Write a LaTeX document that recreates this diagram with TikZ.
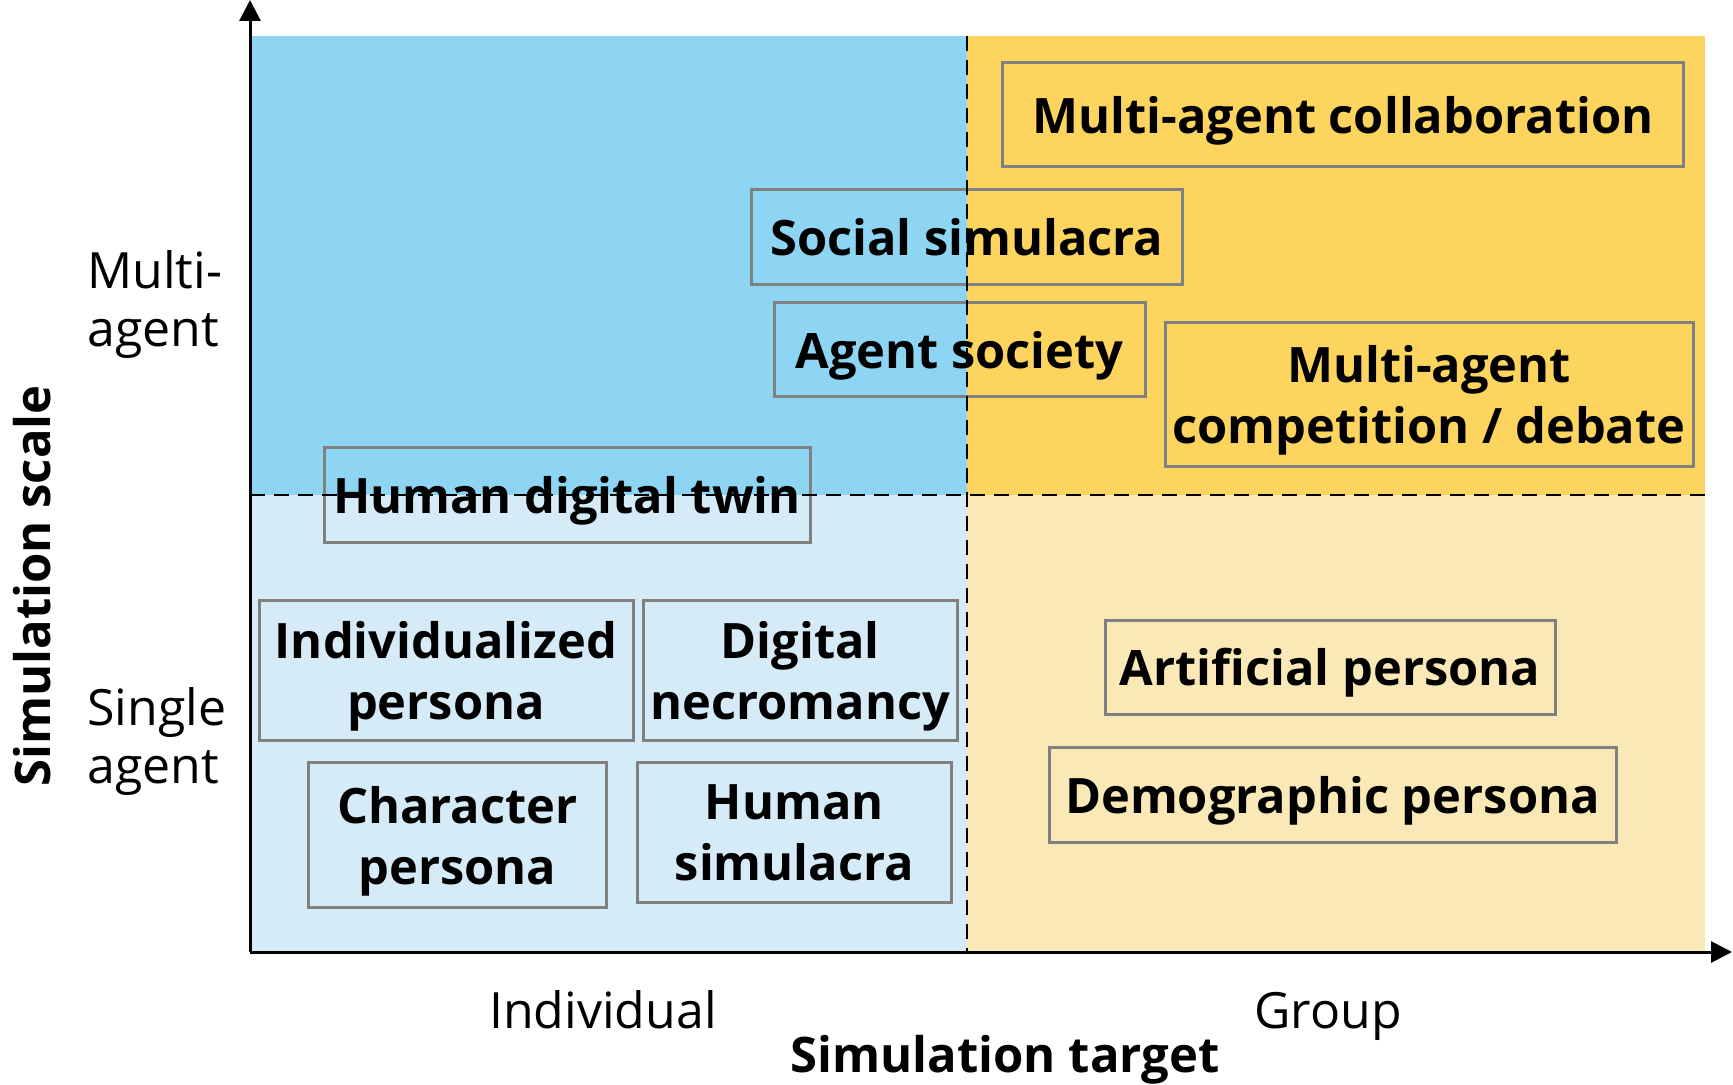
\documentclass[tikz,border=0pt]{standalone}
\usepackage{fontspec}
\setmainfont{Open Sans}
\usetikzlibrary{arrows.meta}
\definecolor{cTL}{HTML}{8DD5F2}
\definecolor{cBL}{HTML}{D5ECF8}
\definecolor{cTR}{HTML}{FDD55E}
\definecolor{cBR}{HTML}{FAE9B6}
\definecolor{boxgray}{HTML}{808080}
\begin{document}
\begin{tikzpicture}[x=0.5pt,y=-0.5pt,
  box/.style={draw=boxgray, line width=1.5pt, inner sep=0pt, align=center,
    text depth=0pt, font=\bfseries\fontsize{24.4}{30.5}\selectfont},
  lab/.style={inner sep=0pt, align=left, font=\fontsize{25}{29}\selectfont},
  axlab/.style={inner sep=0pt, font=\fontsize{25}{29}\selectfont},
  axtitle/.style={inner sep=0pt, font=\bfseries\fontsize{24.5}{26}\selectfont},
  divider/.style={line width=1.2pt, dash pattern=on 7.5pt off 4.5pt},
  axisline/.style={line width=1.5pt, -{Triangle[length=10.5pt,width=10.5pt]}}]
\useasboundingbox (0,0) rectangle (1733,1085);
% quadrants
\fill[cTL] (250,35.7) rectangle (967,495);
\fill[cBL] (250,495) rectangle (967,952);
\fill[cTR] (967,35.7) rectangle (1705,495);
\fill[cBR] (967,495) rectangle (1705,952);
% boxes
\node[box, minimum width=340.6pt, minimum height=52pt] (mac) at (1343,115) {Multi-agent collaboration};
\node[box, minimum width=215.3pt, minimum height=47.3pt] (ss) at (966.8,237.3) {Social simulacra};
\node[box, minimum width=185.5pt, minimum height=46.5pt] (as) at (959.5,349.5) {Agent society};
\node[box, minimum width=264pt, minimum height=71.5pt] (mcd) at (1429,394.5) {Multi-agent\\competition / debate};
\node[box, minimum width=243pt, minimum height=47.3pt] (hdt) at (567,494.8) {Human digital twin};
\node[box, minimum width=187pt, minimum height=70.2pt] (ip) at (446,670.6) {Individualized\\persona};
\node[box, minimum width=157.3pt, minimum height=70.2pt] (dn) at (800.3,670.6) {Digital\\necromancy};
\node[box, minimum width=148.7pt, minimum height=72.4pt] (cp) at (457.4,835.2) {Character\\persona};
\node[box, minimum width=156.6pt, minimum height=70pt] (hs) at (794.4,832.8) {Human\\simulacra};
\node[box, minimum width=225pt, minimum height=47pt] (ap) at (1330,667) {Artificial persona};
\node[box, minimum width=283.5pt, minimum height=47.5pt] (dp) at (1332.5,794.5) {Demographic persona};
% dividers
\coordinate (vtop) at (967,35.7);
\coordinate (vbot) at (967,952);
\coordinate (hl) at (250,495);
\coordinate (hr) at (1705,495);
\draw[divider] (vtop) -- (vbot);
\draw[divider] (hl) -- (hr);
% axes
\coordinate (O) at (250,952);
\coordinate (ytip) at (250,0);
\coordinate (xtip) at (1732,952);
\draw[axisline] (O) -- (ytip);
\draw[axisline] (O) -- (xtip);
% labels
\node[lab, anchor=west] (multi) at (87,305) {Multi-\\agent};
\node[lab, anchor=west] (single) at (87,742) {Single\\agent};
\node[axtitle, rotate=90] (yt) at (32,586) {Simulation scale};
\node[axlab, anchor=base] (indiv) at (603,1028) {Individual};
\node[axlab, anchor=base] (group) at (1328,1028) {Group};
\node[axtitle, anchor=base] (xt) at (1005,1072) {Simulation target};
\end{tikzpicture}
\end{document}
